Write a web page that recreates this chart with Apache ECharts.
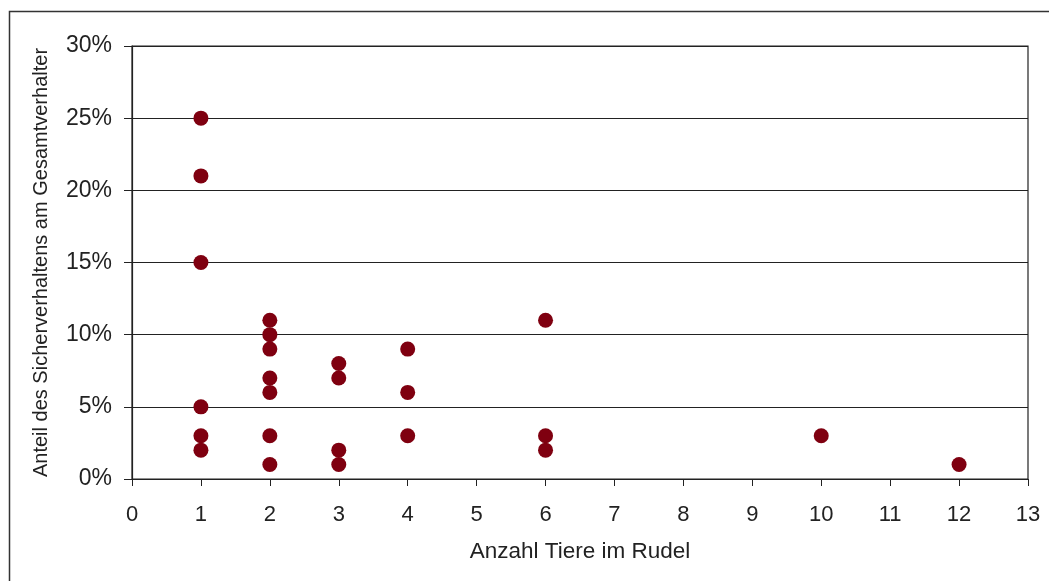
<!DOCTYPE html>
<html><head><meta charset="utf-8">
<script src="https://cdn.jsdelivr.net/npm/echarts@6/dist/echarts.min.js"></script>
<style>html,body{margin:0;padding:0;background:#fff}#c{width:1049px;height:581px}</style>
</head><body><div id="c"></div>
<script>
const xValues = [1,1,1,1,1,1, 2,2,2,2,2,2,2, 3,3,3,3, 4,4,4, 6,6,6, 10, 12];
const yValues = [25,21,15,5,3,2, 11,10,9,7,6,3,1, 8,7,2,1, 9,6,3, 11,3,2, 3, 1];
const xName = 'Anzahl Tiere im Rudel';
const yName = 'Anteil des Sicherverhaltens am Gesamtverhalter';

const data = xValues.map((x,i)=>[x, yValues[i]]);
const chart = echarts.init(document.getElementById('c'));
const font = 'Liberation Sans, Arial, sans-serif';
chart.setOption({
  animation:false,
  graphic:[{type:'rect',shape:{x:9.5,y:11.5,width:1100,height:700},style:{fill:'none',stroke:'#333',lineWidth:1.5},z:-1}],
  grid:{left:132,right:21,top:46,bottom:102,show:true,borderColor:'#222',borderWidth:1.2},
  xAxis:{type:'value',min:0,max:13,interval:1,
    name:xName,nameLocation:'middle',nameGap:61,
    nameTextStyle:{fontFamily:font,fontSize:22.5,color:'#222'},
    axisLine:{show:true,lineStyle:{color:'#222',width:1.2}},
    axisTick:{show:true,length:7,lineStyle:{color:'#222'}},
    axisLabel:{fontFamily:font,fontSize:22,color:'#222',margin:25},
    splitLine:{show:false}},
  yAxis:{type:'value',min:0,max:30,interval:5,
    name:yName,nameLocation:'middle',nameGap:81,
    nameTextStyle:{fontFamily:font,fontSize:20,color:'#222'},
    axisLine:{show:true,lineStyle:{color:'#222',width:1.2}},
    axisTick:{show:true,length:8,inside:false,lineStyle:{color:'#222'}},
    axisLabel:{fontFamily:font,fontSize:23,color:'#222',margin:20,formatter:v=>v+'%'},
    splitLine:{show:true,lineStyle:{color:'#222',width:1}}},
  series:[{type:'scatter',data:data,symbol:'circle',symbolSize:15,
    itemStyle:{color:'#7F0010',opacity:1}}]
});
</script></body></html>
